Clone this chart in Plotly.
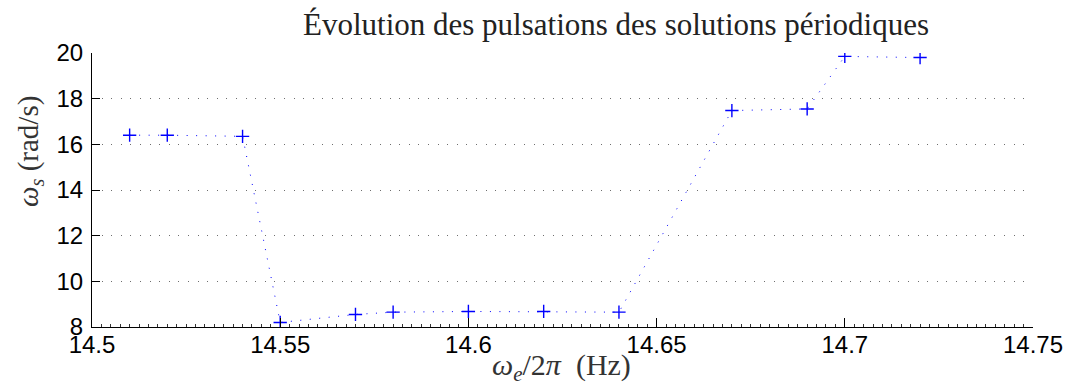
import plotly.graph_objects as go

# Excitation frequency (Hz) and measured pulsation of the periodic solutions (rad/s)
freq_hz = [14.51, 14.52, 14.54, 14.55, 14.57, 14.58, 14.60, 14.62, 14.64, 14.67, 14.69, 14.70, 14.72]
omega_s = [16.40, 16.40, 16.35, 8.20, 8.55, 8.65, 8.68, 8.68, 8.65, 17.48, 17.55, 19.85, 19.80]

x_ticks = [14.5, 14.55, 14.6, 14.65, 14.7, 14.75]
x_tick_text = ["14.5", "14.55", "14.6", "14.65", "14.7", "14.75"]
y_ticks = [8, 10, 12, 14, 16, 18, 20]

title_text = "Évolution des pulsations des solutions périodiques"
x_label = "<i>ω</i><sub><i>e</i></sub>/2<i>π</i>&nbsp;&nbsp;(Hz)"
y_label = "<i>ω</i><sub><i>s</i></sub>&nbsp;(rad/s)"

SERIF = "Liberation Serif"
SANS = "Liberation Sans"

fig = go.Figure()
fig.add_trace(go.Scatter(
    x=freq_hz, y=omega_s,
    mode="lines+markers",
    line=dict(color="#0000ff", width=1, dash="1px,8.5px"),
    marker=dict(symbol="cross-thin", size=9.5, line=dict(color="#0000ff", width=1.4)),
    showlegend=False,
))

fig.update_layout(
    width=1069, height=385, autosize=False,
    margin=dict(l=92, r=36, t=53, b=58, autoexpand=False),
    paper_bgcolor="white", plot_bgcolor="white",
    font=dict(family=SANS, size=24, color="black"),
    xaxis=dict(
        range=[14.5, 14.75], tickvals=x_ticks, ticktext=x_tick_text,
        ticks="inside", ticklen=9, tickwidth=1, tickcolor="black",
        showline=True, linecolor="black", linewidth=1, mirror=False,
        showgrid=False, zeroline=False, automargin=False,
        tickfont=dict(family=SANS, size=24, color="black"),
        ticklabelstandoff=-4,
        minor=dict(dtick=0.0025, tick0=14.5, ticks="inside", ticklen=3,
                   tickcolor="#333333", tickwidth=1, showgrid=False),
    ),
    yaxis=dict(
        range=[8, 20], tickvals=y_ticks,
        ticks="inside", ticklen=8, tickwidth=1, tickcolor="black",
        showline=True, linecolor="black", linewidth=1, mirror=False,
        showgrid=True, gridcolor="#6e6e6e", gridwidth=1, griddash="1px,8.6px",
        zeroline=False, automargin=False,
        tickfont=dict(family=SANS, size=24, color="black"),
        ticklabelstandoff=3,
    ),
    annotations=[
        dict(text=title_text, xref="paper", yref="paper",
             x=(616 - 92) / 941, y=1 + (53 - 25) / 274, xanchor="center", yanchor="middle",
             showarrow=False, font=dict(family=SERIF, size=31, color="#222222")),
        dict(text=x_label, xref="paper", yref="paper",
             x=(561 - 92) / 941, y=-(367 - 327) / 274, xanchor="center", yanchor="middle",
             showarrow=False, font=dict(family=SERIF, size=30, color="#333333")),
        dict(text=y_label, xref="paper", yref="paper", textangle=-90,
             x=(30 - 92) / 941, y=(327 - 152) / 274, xanchor="center", yanchor="middle",
             showarrow=False, font=dict(family=SERIF, size=29, color="#333333")),
    ],
)

fig.write_html("out.html")
